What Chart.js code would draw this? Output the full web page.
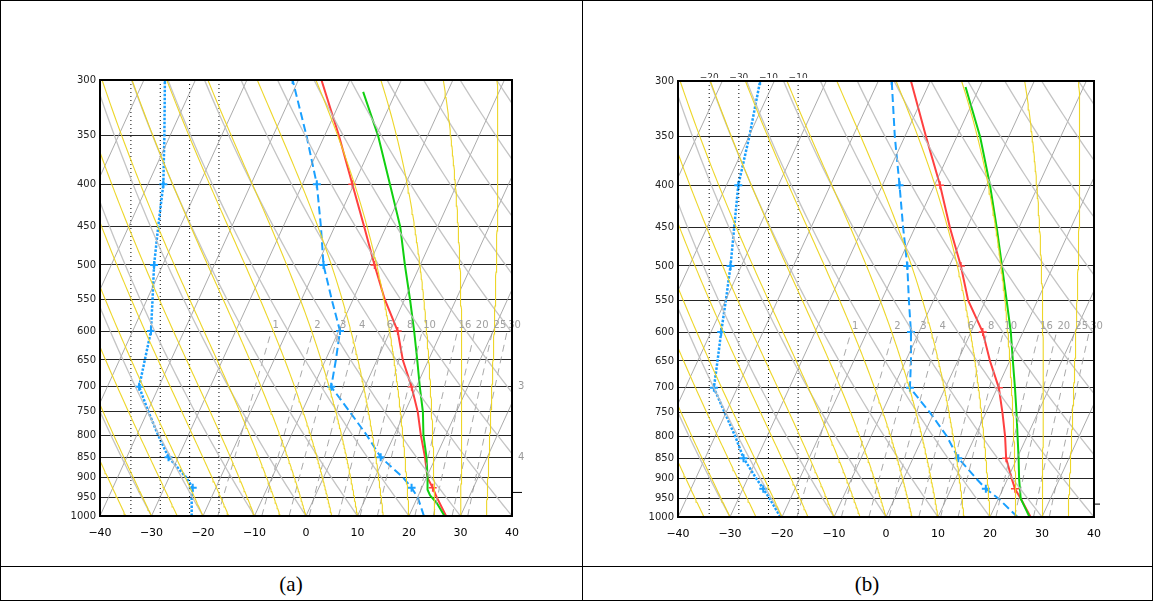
<!DOCTYPE html>
<html>
<head>
<meta charset="utf-8">
<script src="https://cdn.jsdelivr.net/npm/chart.js@4.4.1/dist/chart.umd.min.js"></script>
<style>
body { margin: 0; background: #fff; }
#page { position: relative; width: 1153px; height: 601px; overflow: hidden; }
canvas { position: absolute; top: 0; }
.rule { position: absolute; background: #000; }
.cap { position: absolute; top: 572px; width: 80px; text-align: center; font-family: "Liberation Serif", serif; font-size: 21px; }
</style>
</head>
<body>
<div id="page">
  <canvas id="chartA" width="582" height="566" style="left:0"></canvas>
  <canvas id="chartB" width="571" height="566" style="left:582px"></canvas>
  <div class="rule" style="left:0;top:0;width:1153px;height:1px"></div>
  <div class="rule" style="left:0;top:600px;width:1153px;height:1px"></div>
  <div class="rule" style="left:0;top:0;width:1px;height:601px"></div>
  <div class="rule" style="left:1152px;top:0;width:1px;height:601px"></div>
  <div class="rule" style="left:582px;top:0;width:1px;height:601px"></div>
  <div class="rule" style="left:0;top:566px;width:1153px;height:1px"></div>
  <div class="cap" style="left:251px">(a)</div>
  <div class="cap" style="left:827px">(b)</div>
</div>
<script>
// pressure levels (hPa) of the soundings
const levels = [1000, 950, 925, 900, 850, 800, 750, 700, 650, 600, 550, 500, 450, 400, 350, 300];

// values as read on the skewed temperature axis at each level
// panel (a)
const tempA     = [27.2, 25.4, 24.6, 23.6, 23.1, 22.3, 21.7, 20.5, 18.8, 17.8, 15.3, 13.3, 11.3, 9.0, 6.4, 3.0];
const dewA      = [22.9, 21.7, 20.5, 18.9, 14.5, 11.8, 8.5, 4.9, 5.8, 6.6, 5.0, 3.4, 2.9, 2.1, 0.1, -2.6];
const dewDotA   = [-22.2, -22.2, -22.0, -23.2, -26.7, -28.7, -30.6, -32.4, -31.3, -30.1, -29.8, -29.5, -28.7, -27.7, -27.5, -27.4];
const parcelLevelsA = [1000, 965, 945, 930, 900, 850, 800, 750, 700, 650, 600, 550, 500, 450, 400, 350, 310];
const parcelA   = [26.9, 25.4, 24.1, 23.6, 23.6, 23.4, 22.8, 22.7, 22.1, 21.6, 21.0, 20.2, 19.2, 18.3, 16.3, 14.0, 11.1];

// panel (b)
const tempB     = [27.8, 25.9, 24.8, 24.2, 23.1, 22.9, 22.4, 21.7, 20.0, 18.6, 15.8, 14.4, 12.3, 10.4, 7.7, 4.8];
const dewB      = [25.3, 21.6, 19.2, 17.4, 13.9, 11.7, 8.5, 4.6, 4.8, 4.8, 4.4, 4.1, 3.3, 2.6, 1.7, 1.1];
const dewDotB   = [-20.3, -22.4, -23.6, -24.9, -27.4, -29.0, -31.0, -33.1, -32.4, -31.7, -30.8, -29.9, -29.2, -28.4, -26.3, -24.2];
const parcelLevelsB = [1000, 950, 900, 850, 800, 750, 700, 650, 600, 550, 500, 450, 400, 350, 305];
const parcelB   = [27.6, 25.9, 25.6, 25.5, 25.3, 25.1, 24.8, 24.4, 24.0, 23.2, 22.3, 21.3, 20.0, 18.1, 15.3];

// levels carrying a "+" marker
const tempMarksA = [925, 700, 600, 500, 400];
const tempMarksB = [925, 850, 700, 600, 500, 400];
const dewMarks   = [925, 850, 700, 600, 500, 400, 300];

// diagram background
const isotherms    = [-80, -70, -60, -50, -40, -30, -20, -10, 0, 10, 20, 30, 40];
const dryAdiabats  = [-40, -30, -20, -10, 0, 10, 20, 30, 40, 50, 60, 70, 80, 90, 100, 110, 120];
const moistStarts  = [-40, -35, -30, -25, -20, -15, -10, -5, 0, 5, 10, 15, 20, 25, 30, 35, 40];
const mixingRatios = [1, 2, 3, 4, 6, 8, 10, 16, 20, 25, 30];
const dottedCols   = [-34, -28.3, -22.6, -16.9];
const yTicks = [300, 350, 400, 450, 500, 550, 600, 650, 700, 750, 800, 850, 900, 950, 1000];

const SKEW = 32;
function skewX(t, p) { return t + SKEW * Math.log(1000 / p); }
function satVap(tc) { return 6.112 * Math.exp(17.67 * tc / (tc + 243.5)); }
function dewFromMix(w, p) {
    const e = w * p / (622 + w);
    const l = Math.log(e / 6.112);
    return 243.5 * l / (17.67 - l);
}
function moistLapse(tk, p) {
    const es = satVap(tk - 273.15);
    const rs = 0.622 * es / (p - es);
    const Rd = 287.04, Cp = 1005.7, Lv = 2.501e6;
    return (Rd * tk + Lv * rs) / (p * (Cp + Lv * Lv * rs * 0.622 / (Rd * tk * tk)));
}

function backgroundSets() {
    const sets = [];
    moistStarts.forEach(t0 => {
        let tk = t0 + 273.15;
        const pts = [{ x: t0, y: 1000 }];
        for (let p = 1000; p > 300; p -= 5) {
            const k1 = moistLapse(tk, p);
            const k2 = moistLapse(tk - 5 * k1, p - 5);
            tk -= 2.5 * (k1 + k2);
            pts.push({ x: skewX(tk - 273.15, p - 5), y: p - 5 });
        }
        sets.push({ data: pts, borderColor: 'rgba(236,212,30,0.95)', borderWidth: 1.1 });
    });
    dryAdiabats.forEach(th => {
        const pts = [];
        for (let p = 1000; p >= 300; p -= 10) {
            const t = (th + 273.15) * Math.pow(p / 1000, 0.2857) - 273.15;
            pts.push({ x: skewX(t, p), y: p });
        }
        sets.push({ data: pts, borderColor: 'rgba(190,190,190,0.9)', borderWidth: 1.3 });
    });
    isotherms.forEach(t => {
        sets.push({ data: [{ x: skewX(t, 1000), y: 1000 }, { x: skewX(t, 300), y: 300 }],
            borderColor: 'rgba(150,150,150,0.8)', borderWidth: 1 });
    });
    mixingRatios.forEach(w => {
        const pts = [];
        for (let p = 1000; p >= 600; p -= 20) pts.push({ x: skewX(dewFromMix(w, p), p), y: p });
        sets.push({ data: pts, borderColor: 'rgba(160,160,160,0.9)', borderWidth: 1, borderDash: [7, 5] });
    });
    dottedCols.forEach(x => {
        sets.push({ data: [{ x: x, y: 300 }, { x: x, y: 1000 }], borderColor: '#000', borderWidth: 1, borderDash: [1, 3] });
    });
    return sets;
}

function pts(pres, vals) { return pres.map((p, i) => ({ x: vals[i], y: p })); }
function radii(pres, marks) { return pres.map(p => marks.includes(p) ? 4 : 0); }

function soundingSets(temp, dew, dewDot, parcelLevels, parcel, tempMarks) {
    return [
        { data: pts(parcelLevels, parcel), borderColor: '#10d010', borderWidth: 2, pointRadius: 0 },
        { data: pts(levels, temp), borderColor: '#ff4040', borderWidth: 2,
          pointStyle: 'cross', pointRadius: radii(levels, tempMarks), pointBorderColor: '#ff4040', pointBorderWidth: 1.5 },
        { data: pts(levels, dew), borderColor: '#1aa0ff', borderWidth: 2, borderDash: [8, 4],
          pointStyle: 'cross', pointRadius: radii(levels, dewMarks), pointBorderColor: '#1aa0ff', pointBorderWidth: 2 },
        { data: pts(levels, dewDot), borderColor: '#1aa0ff', borderWidth: 2.5, borderDash: [2.5, 1.5],
          pointStyle: 'cross', pointRadius: radii(levels, dewMarks), pointBorderColor: '#1aa0ff', pointBorderWidth: 2 }
    ];
}

const extrasPlugin = {
    id: 'extras',
    afterDraw(chart, args, opts) {
        const ctx = chart.ctx, a = chart.chartArea;
        const xs = chart.scales.x, ys = chart.scales.y;
        ctx.save();
        // mixing ratio labels just above 600 hPa
        ctx.font = '10px "DejaVu Sans"';
        ctx.fillStyle = '#a0a0a0';
        ctx.textBaseline = 'bottom';
        ctx.textAlign = 'left';
        mixingRatios.forEach(w => {
            const x = xs.getPixelForValue(skewX(dewFromMix(w, 600), 600));
            ctx.fillText(String(w), x + 1, ys.getPixelForValue(600) - 1);
        });
        // frame
        ctx.strokeStyle = '#000';
        ctx.lineWidth = 2;
        ctx.strokeRect(a.left, a.top, a.right - a.left, a.bottom - a.top);
        // side marks
        (opts.side || []).forEach(s => {
            const y = ys.getPixelForValue(s.p);
            if (s.text) {
                ctx.fillStyle = '#999';
                ctx.textBaseline = 'middle';
                ctx.fillText(s.text, a.right + 6, y);
            } else {
                ctx.lineWidth = 1;
                ctx.beginPath();
                ctx.moveTo(a.right, y);
                ctx.lineTo(a.right + s.len, y);
                ctx.stroke();
            }
        });
        // clipped labels above the top
        if (opts.top) {
            ctx.beginPath();
            ctx.rect(a.left, a.top - 9, 200, 6);
            ctx.clip();
            ctx.fillStyle = '#333';
            ctx.textAlign = 'center';
            ctx.textBaseline = 'alphabetic';
            ctx.font = '9px "DejaVu Sans"';
            opts.top.forEach((t, i) => ctx.fillText(t, xs.getPixelForValue(dottedCols[i]), a.top - 1));
        }
        ctx.restore();
    }
};

function makeChart(id, pad, sets, extras) {
    const all = backgroundSets().concat(sets).map(d => Object.assign({ pointRadius: 0, tension: 0, fill: false }, d));
    return new Chart(document.getElementById(id), {
        type: 'line',
        data: { datasets: all },
        options: {
            responsive: false,
            animation: false,
            events: [],
            layout: { padding: pad },
            plugins: { legend: { display: false }, tooltip: { enabled: false }, extras: extras },
            scales: {
                x: {
                    type: 'linear', min: -40, max: 40,
                    afterFit: s => { s.height = 30; },
                    grid: { display: false },
                    border: { display: false },
                    ticks: { stepSize: 10, color: '#000', padding: 3, font: { family: 'DejaVu Sans', size: 11 },
                             callback: v => String(v).replace('-', '\u2212') }
                },
                y: {
                    type: 'logarithmic', min: 300, max: 1000, reverse: true,
                    afterFit: s => { s.width = 40; },
                    afterBuildTicks: s => { s.ticks = yTicks.map(v => ({ value: v })); },
                    grid: { color: '#262626', lineWidth: 1, drawTicks: false },
                    border: { display: false },
                    ticks: { autoSkip: false, color: '#222', padding: 4, font: { family: 'DejaVu Sans', size: 10 },
                             callback: v => String(v) }
                }
            }
        },
        plugins: [extrasPlugin]
    });
}

makeChart('chartA', { left: 60, top: 80, right: 70, bottom: 20 },
    soundingSets(tempA, dewA, dewDotA, parcelLevelsA, parcelA, tempMarksA),
    { side: [{ p: 700, text: '3' }, { p: 850, text: '4' }, { p: 937, len: 10 }] });

makeChart('chartB', { left: 56, top: 81, right: 59, bottom: 19 },
    soundingSets(tempB, dewB, dewDotB, parcelLevelsB, parcelB, tempMarksB),
    { side: [{ p: 965, len: 6 }], top: ['\u221220', '\u221230', '\u221210', '\u221210'] });
</script>
</body>
</html>
